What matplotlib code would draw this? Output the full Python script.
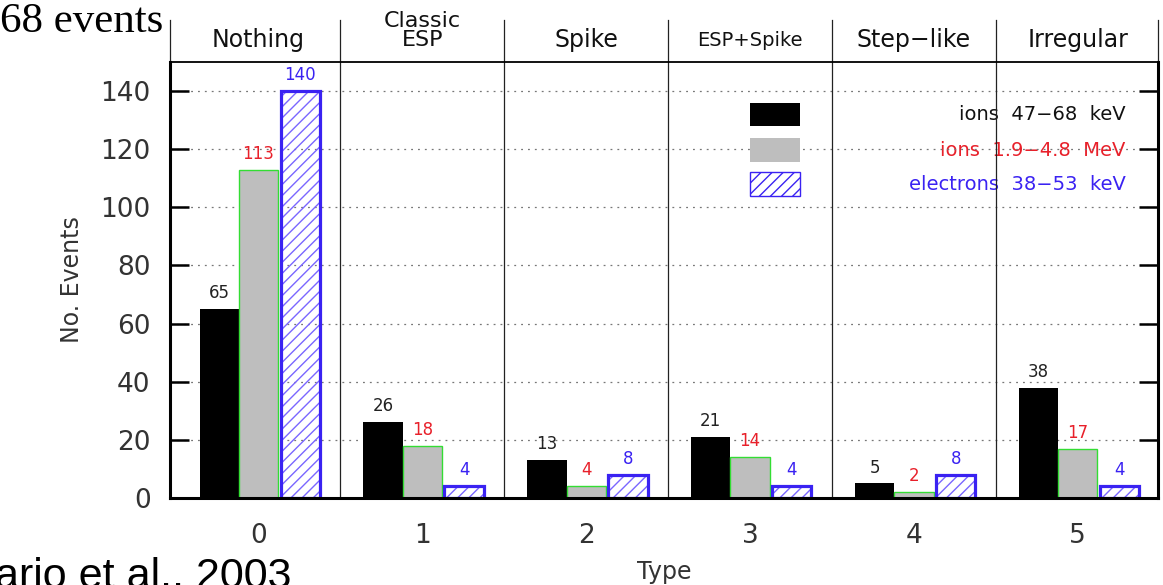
import matplotlib
matplotlib.use("Agg")
import matplotlib.pyplot as plt
from matplotlib.patches import Rectangle
import numpy as np

# event counts per type
types = [0, 1, 2, 3, 4, 5]
type_names = ["Nothing", "Classic\nESP", "Spike", "ESP+Spike", "Step\u2212like", "Irregular"]
ions_kev = [65, 26, 13, 21, 5, 38]
ions_mev = [113, 18, 4, 14, 2, 17]
electrons = [140, 4, 8, 4, 8, 4]

series_labels = ["ions  47\u221268  keV", "ions  1.9\u22124.8  MeV", "electrons  38\u221253  keV"]

RED = "#e8202a"
BLUE = "#3a22f2"
HATCH_BLUE = "#7a66ff"
TXT = "#333333"

plt.rcParams["font.family"] = "DejaVu Sans"
plt.rcParams["hatch.linewidth"] = 1.0

fig = plt.figure(figsize=(11.63, 5.85), dpi=100)
ax = fig.add_axes([0.1462, 0.1487, 0.8495, 0.7453])

x = np.array(types, dtype=float)
w = 0.24
b1 = ax.bar(x - 0.24, ions_kev, w, color="black", zorder=2)
b2 = ax.bar(x, ions_mev, w, color="#bebebe", edgecolor="#33dd33", linewidth=1.0, zorder=2)
# hatch drawn in a lighter blue, outline on top
ax.bar(x + 0.255, electrons, w, fill=False, hatch="///", edgecolor=HATCH_BLUE, linewidth=0, zorder=2)
b3 = ax.bar(x + 0.255, electrons, w, fill=False, edgecolor=BLUE, linewidth=2.3, zorder=2.1)

ax.bar_label(b1, padding=5, color="#222222", fontsize=12)
ax.bar_label(b2, padding=5, color=RED, fontsize=12)
ax.bar_label(b3, padding=5, color=BLUE, fontsize=12)

ax.set_xlim(-0.54, 5.49)
ax.set_ylim(0, 150)
ax.set_yticks(np.arange(0, 141, 20))
ax.set_xticks(types)

ax.set_axisbelow(True)
ax.yaxis.grid(True, linestyle=(0, (1.5, 4)), color="#777777", linewidth=0.9)
ax.tick_params(axis="y", which="major", direction="in", length=14, width=1.8,
               left=True, right=True, labelsize=19, labelcolor=TXT, pad=14)
ax.tick_params(axis="x", length=0, labelsize=19, labelcolor=TXT, pad=18)

for side in ["left", "bottom", "right"]:
    ax.spines[side].set_linewidth(2.2)
ax.spines["top"].set_linewidth(1.3)

# type separators, carried up through the header row
for sx in [-0.54, 0.5, 1.5, 2.5, 3.5, 4.5, 5.49]:
    ax.axvline(sx, ymin=0, ymax=1.096, color="#222222", linewidth=0.9, clip_on=False, zorder=1)

hdr = ax.get_xaxis_transform()
for t, name in zip(types, type_names):
    if "\n" in name:
        ax.text(t, 1.073, name, transform=hdr, ha="center", va="center", fontsize=16,
                color="#111111", linespacing=0.95)
    elif name == "ESP+Spike":
        ax.text(t, 1.05, name, transform=hdr, ha="center", va="center", fontsize=14, color="#111111")
    else:
        ax.text(t, 1.05, name, transform=hdr, ha="center", va="center", fontsize=17, color="#111111")

ax.set_xlabel("Type", fontsize=17, color=TXT, labelpad=8)
ax.set_ylabel("No. Events", fontsize=17, color=TXT, labelpad=12)

# key
key_y = [0.880, 0.798, 0.720]
key_col = ["#111111", RED, BLUE]
ax.add_patch(Rectangle((0.587, key_y[0] - 0.027), 0.051, 0.054, transform=ax.transAxes,
                       facecolor="black", edgecolor="none", zorder=3))
ax.add_patch(Rectangle((0.587, key_y[1] - 0.027), 0.051, 0.054, transform=ax.transAxes,
                       facecolor="#bebebe", edgecolor="none", zorder=3))
ax.add_patch(Rectangle((0.587, key_y[2] - 0.027), 0.051, 0.054, transform=ax.transAxes,
                       fill=False, hatch="///", edgecolor=BLUE, linewidth=1.0, zorder=3))
for ky, lbl, c in zip(key_y, series_labels, key_col):
    ax.text(0.967, ky, lbl, transform=ax.transAxes, ha="right", va="center",
            fontsize=14, color=c, zorder=0.3)

fig.text(0.0, 0.995, "68 events", family="Liberation Serif", fontsize=31, ha="left", va="top")
fig.text(-0.004, -0.004, "ario et al., 2003", family="Liberation Sans", fontsize=31,
         ha="left", va="baseline")

fig.savefig("out.png", dpi=100)
